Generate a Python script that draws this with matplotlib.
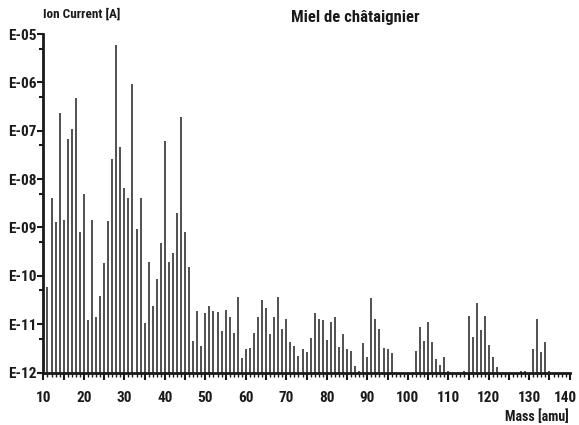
import numpy as np
import matplotlib
matplotlib.use("Agg")
import matplotlib.pyplot as plt
import matplotlib.transforms as mtransforms
from matplotlib.ticker import FixedLocator, FuncFormatter

plt.rcParams['font.family'] = ['Roboto Condensed', 'DejaVu Sans']
plt.rcParams['font.weight'] = 'heavy'

# mass spectrum (Ion current in A)
masses = [11, 12, 13, 14, 15, 16, 17, 18, 19, 20,
          21, 22, 23, 24, 25, 26, 27, 28, 29, 30,
          31, 32, 33, 34, 35, 36, 37, 38, 39, 40,
          41, 42, 43, 44, 45, 46, 47, 48, 49, 50,
          51, 52, 53, 54, 55, 56, 57, 58, 59, 60,
          61, 62, 63, 64, 65, 66, 67, 68, 69, 70,
          71, 72, 73, 74, 75, 76, 77, 78, 79, 80,
          81, 82, 83, 84, 85, 86, 87, 88, 89, 90,
          91, 92, 93, 94, 95, 96,
          102, 103, 104, 105, 106, 107, 108, 109, 110,
          114, 115, 116, 117, 118, 119, 120, 121, 122,
          128, 129, 131, 132, 133, 134, 135]
current = [5.9e-11, 4.0e-9, 1.3e-9, 2.3e-7, 1.4e-9, 6.9e-8, 1.1e-7, 4.7e-7, 8.1e-10, 4.8e-9,
           1.2e-11, 1.4e-9, 1.4e-11, 3.8e-11, 1.8e-10, 1.35e-9, 2.6e-8, 5.9e-6, 4.7e-8, 6.5e-9,
           4.1e-9, 9.1e-7, 9.1e-10, 4.0e-9, 1.07e-11, 1.9e-10, 2.4e-11, 8.5e-11, 4.7e-10, 6.2e-8,
           1.9e-10, 3.0e-10, 2.0e-9, 1.9e-7, 8.1e-10, 1.5e-10, 4.5e-12, 1.9e-11, 3.5e-12, 1.7e-11,
           2.4e-11, 1.9e-11, 1.8e-11, 7.2e-12, 2.0e-11, 1.4e-11, 6.6e-12, 3.6e-11, 2.0e-12, 3.0e-12,
           3.2e-12, 6.6e-12, 1.4e-11, 3.2e-11, 2.2e-11, 6.2e-12, 1.4e-11, 3.6e-11, 7.8e-12, 1.3e-11,
           4.3e-12, 3.5e-12, 2.2e-12, 3.1e-12, 2.6e-12, 5.1e-12, 1.7e-11, 1.3e-11, 1.2e-11, 4.6e-12,
           1.1e-11, 1.4e-11, 3.4e-12, 6.2e-12, 3.1e-12, 2.8e-12, 1.35e-12, 1.05e-12, 4.1e-12, 2.1e-12,
           3.5e-11, 1.3e-11, 7.8e-12, 3.2e-12, 3.0e-12, 2.5e-12,
           2.8e-12, 8.7e-12, 4.5e-12, 1.1e-11, 4.2e-12, 1.9e-12, 1.4e-12, 2.1e-12, 1.07e-12,
           1.07e-12, 1.45e-11, 5.4e-12, 2.8e-11, 7.6e-12, 1.45e-11, 3.7e-12, 2.1e-12, 1.3e-12,
           1.1e-12, 1.07e-12, 3.0e-12, 1.3e-11, 2.6e-12, 4.3e-12, 1.07e-12]

ytick_exp = [-5, -6, -7, -8, -9, -10, -11, -12]
ytick_labels = ['E-05', 'E-06', 'E-07', 'E-08', 'E-09', 'E-10', 'E-11', 'E-12']

fig = plt.figure(figsize=(5.79, 4.25), dpi=100)
ax = fig.add_axes([0.075, 0.1235, 0.909, 0.7965])

ax.vlines(masses, 1e-12, current, colors='#505050', linewidth=1.4)

ax.set_yscale('log')
ax.set_ylim(1e-12, 1e-5)
ax.set_xlim(10, 140)

ax.yaxis.set_major_locator(FixedLocator([10.0 ** e for e in ytick_exp]))
ax.yaxis.set_minor_locator(FixedLocator([5 * 10.0 ** e for e in range(-12, -5)]))
ax.set_yticklabels(ytick_labels)
ax.yaxis.set_minor_formatter(FuncFormatter(lambda v, p: ''))

ax.xaxis.set_major_locator(FixedLocator(np.arange(10, 141, 5)))
ax.xaxis.set_minor_locator(FixedLocator(np.arange(10, 141, 1)))
ax.xaxis.set_major_formatter(FuncFormatter(lambda v, p: '%d' % v if int(round(v)) % 10 == 0 else ''))

for s in ['top', 'right']:
    ax.spines[s].set_visible(False)
for s in ['left', 'bottom']:
    ax.spines[s].set_linewidth(2)
    ax.spines[s].set_color('#1a1a1a')

ax.tick_params(axis='y', which='major', direction='out', length=4, width=1.5, pad=1,
               labelsize=11, colors='#1a1a1a')
ax.tick_params(axis='y', which='minor', direction='out', length=3, width=1.5, colors='#1a1a1a')
ax.tick_params(axis='x', which='major', direction='out', length=5, width=1.5, pad=8,
               labelsize=11, colors='#1a1a1a')
ax.tick_params(axis='x', which='minor', direction='out', length=3, width=1, colors='#1a1a1a')

# last x label sits right at the figure edge, nudge it in a bit
fig.canvas.draw()
last = ax.get_xticklabels()[-1]
last.set_transform(last.get_transform() + mtransforms.ScaledTranslation(-4 / 100, 0, fig.dpi_scale_trans))

fig.text(0.074, 0.967, 'Ion Current [A]', fontsize=9.5, va='center', ha='left', color='#1a1a1a')
fig.text(0.613, 0.958, 'Miel de châtaignier', fontsize=12, va='center', ha='center',
         color='#1a1a1a')
fig.text(0.928, 0.02, 'Mass [amu]', fontsize=10, va='center', ha='center', color='#1a1a1a')

fig.savefig('out.png', dpi=100)
